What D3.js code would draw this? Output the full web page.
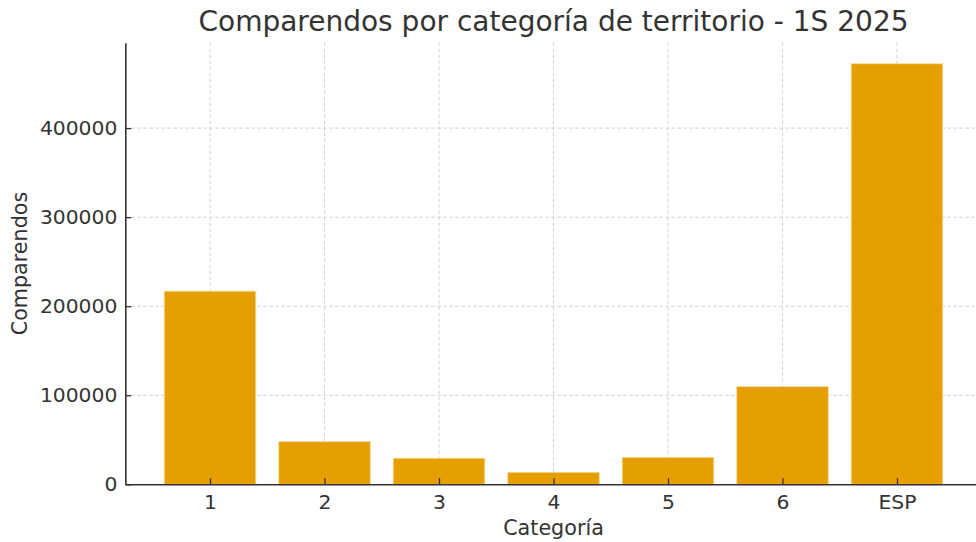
<!DOCTYPE html>
<html><head><meta charset="utf-8">
<script src="https://cdn.jsdelivr.net/npm/d3@7"></script>
<style>
html,body{margin:0;padding:0;background:#fff;overflow:hidden}
svg{display:block;font-family:"DejaVu Sans",sans-serif}
</style></head>
<body><svg id="c" width="976" height="542"></svg>
<script>
const categories = ["1","2","3","4","5","6","ESP"];
const comparendos = [216900, 47900, 29300, 13500, 30300, 109700, 472300];
const yTicks = [0, 100000, 200000, 300000, 400000];

const titleText = "Comparendos por categoría de territorio - 1S 2025";
const xLabel = "Categoría";
const yLabel = "Comparendos";

(function(){
const svg = d3.select("#c");
const mLeft = 125.3, mRight = 981.7, mTop = 42.7, mBottom = 484.3;
const textColor = "#333333";

const x = d3.scaleLinear().domain([-0.74, categories.length - 1 + 0.74]).range([mLeft, mRight]);
const ymax = d3.max(comparendos) * 1.05;
const y = d3.scaleLinear().domain([0, ymax]).range([mBottom, mTop]);
const bw = x(0.8) - x(0);

// grid
const g = svg.append("g");
g.selectAll("line.gx").data(categories).enter().append("line")
  .attr("x1", (d,i)=>x(i)).attr("x2",(d,i)=>x(i)).attr("y1", mTop).attr("y2", mBottom)
  .attr("stroke", "#d0d0d0").attr("stroke-width", 1).attr("stroke-dasharray", "3.5,2.5");
g.selectAll("line.gy").data(yTicks).enter().append("line")
  .attr("x1", mLeft).attr("x2", mRight).attr("y1", d=>y(d)).attr("y2", d=>y(d))
  .attr("stroke", "#d0d0d0").attr("stroke-width", 1).attr("stroke-dasharray", "3.5,2.5");

// bars
svg.append("g").selectAll("rect").data(comparendos).enter().append("rect")
  .attr("x", (d,i)=>x(i) - bw/2).attr("width", bw)
  .attr("y", d=>y(d)).attr("height", d=>mBottom - y(d))
  .attr("fill", "#E69F00").attr("stroke", "#f6dca0").attr("stroke-width", 0.8);

// axes
const xAxis = d3.axisBottom(x).tickValues(d3.range(categories.length))
  .tickFormat(i=>categories[i]).tickSizeInner(-6).tickSizeOuter(0).tickPadding(10);
const xa = svg.append("g").attr("transform", `translate(0,${mBottom})`).call(xAxis);
xa.select(".domain").attr("stroke", textColor).attr("stroke-width", 1.6);
xa.selectAll(".tick line").attr("stroke", textColor).attr("stroke-width", 1.3);
xa.selectAll(".tick text").attr("fill", textColor).style("font-size", "20.3px")
  .style("font-family", "DejaVu Sans");

const yAxis = d3.axisLeft(y).tickValues(yTicks).tickFormat(d3.format("d"))
  .tickSizeInner(-6).tickSizeOuter(0).tickPadding(8);
const ya = svg.append("g").attr("transform", `translate(${mLeft},0)`).call(yAxis);
ya.select(".domain").attr("stroke", textColor).attr("stroke-width", 1.6);
ya.selectAll(".tick line").attr("stroke", textColor).attr("stroke-width", 1.3);
ya.selectAll(".tick text").attr("fill", textColor).style("font-size", "20.3px")
  .style("font-family", "DejaVu Sans");

// labels
svg.append("text").attr("x", (mLeft+mRight)/2).attr("y", 31).attr("text-anchor","middle")
  .attr("fill", textColor).style("font-size","28px").text(titleText);
svg.append("text").attr("x", (mLeft+mRight)/2).attr("y", 535).attr("text-anchor","middle")
  .attr("fill", textColor).style("font-size","20.7px").text(xLabel);
svg.append("text").attr("transform", `translate(27,${(mTop+mBottom)/2}) rotate(-90)`)
  .attr("text-anchor","middle").attr("fill", textColor).style("font-size","20.7px").text(yLabel);
})();
</script></body></html>
